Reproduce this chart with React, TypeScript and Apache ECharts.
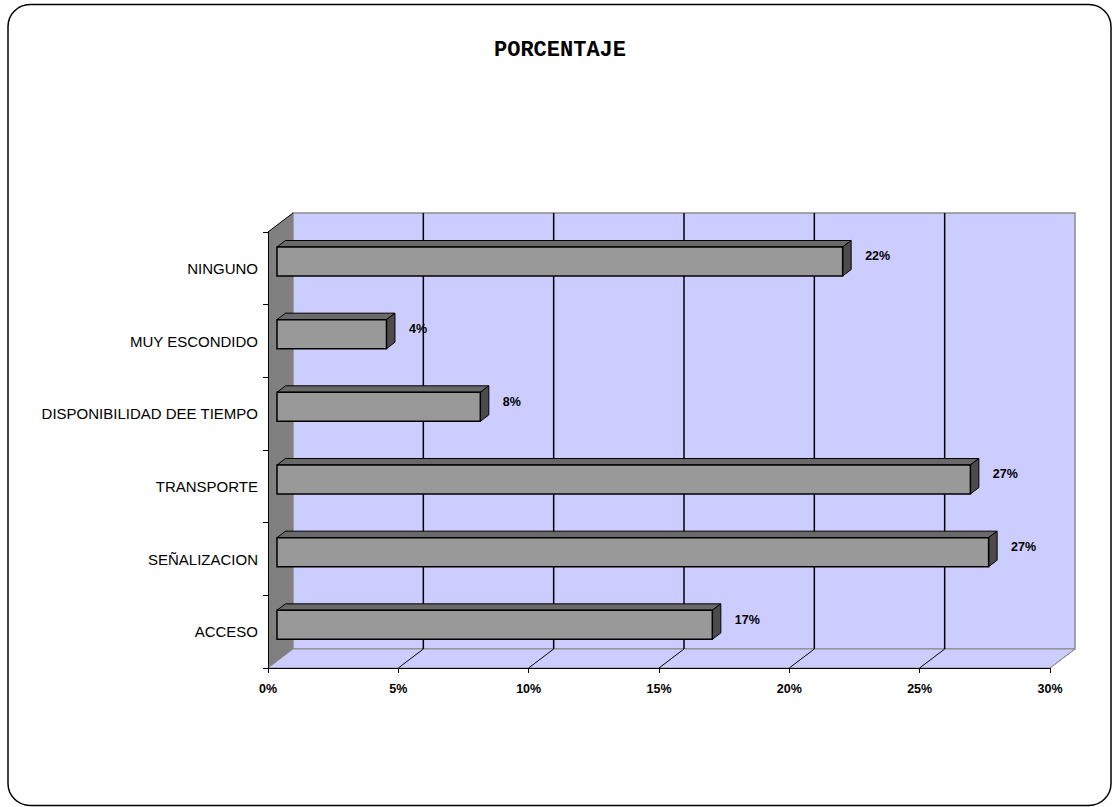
import React, { useEffect, useRef } from "react";
import * as echarts from "echarts";

// Reasons listed (bottom to top on the category axis)
const categories = [
  "ACCESO",
  "SEÑALIZACION",
  "TRANSPORTE",
  "DISPONIBILIDAD DEE TIEMPO",
  "MUY ESCONDIDO",
  "NINGUNO",
];
// Share of answers, in percent
const percentages = [16.7, 27.3, 26.6, 7.8, 4.2, 21.7];
// Value-axis ticks (percent)
const xTicks = [0, 5, 10, 15, 20, 25, 30];

const TITLE = "PORCENTAJE";

// 3D look: depth vector of the plot box, in pixels
const DX = 25;
const DY = -19;
// Bars sit between these fractions of the depth
const F1 = 0.36;
const F2 = 0.7;
const BAR_FRACTION = 0.4;
const LABEL_GAP = 14;

const SANS = 'Arial, "Liberation Sans", sans-serif';

export default function App() {
  const ref = useRef<HTMLDivElement>(null);

  useEffect(() => {
    if (!ref.current) return;
    const chart = echarts.init(ref.current, null, { renderer: "svg" });

    const gridValues = xTicks.filter((t) => t > xTicks[0]);

    const option: any = {
      animation: false,
      backgroundColor: "#ffffff",
      grid: { left: 268, top: 232, width: 782, height: 436, containLabel: false },
      xAxis: {
        type: "value",
        min: xTicks[0],
        max: xTicks[xTicks.length - 1],
        interval: 5,
        z: 10,
        axisLine: { show: true, lineStyle: { color: "#000", width: 1 } },
        axisTick: { show: true, length: 5, lineStyle: { color: "#000" } },
        splitLine: { show: false },
        axisLabel: {
          formatter: "{value}%",
          color: "#000",
          fontSize: 12.5,
          fontWeight: "bold",
          fontFamily: SANS,
          margin: 14,
        },
      },
      yAxis: {
        type: "category",
        data: categories,
        z: 10,
        axisLine: { show: true, lineStyle: { color: "#000", width: 1 } },
        axisTick: { show: true, length: 5, alignWithLabel: false, lineStyle: { color: "#000" } },
        splitLine: { show: false },
        axisLabel: { color: "#000", fontSize: 15, fontFamily: SANS, margin: 10 },
      },
      graphic: [
        {
          type: "rect",
          shape: { x: 8, y: 4.5, width: 1103, height: 801, r: 22 },
          style: { fill: "none", stroke: "#000", lineWidth: 1.5 },
          z: 100,
        },
        {
          type: "text",
          x: 560,
          y: 50,
          style: {
            text: TITLE,
            align: "center",
            verticalAlign: "middle",
            fontSize: 22,
            fontWeight: "bold",
            fontFamily: '"Courier New", "Liberation Mono", monospace',
            fill: "#000",
          },
        },
      ],
      series: [
        {
          // walls and floor of the plot box
          type: "custom",
          z: 1,
          clip: false,
          silent: true,
          data: [[0, 0]],
          renderItem: (params: any) => {
            const cs = params.coordSys;
            const x0 = cs.x, y0 = cs.y, w = cs.width, h = cs.height;
            return {
              type: "group",
              children: [
                {
                  type: "polygon",
                  shape: {
                    points: [
                      [x0 + DX, y0 + DY],
                      [x0 + w + DX, y0 + DY],
                      [x0 + w + DX, y0 + h + DY],
                      [x0 + DX, y0 + h + DY],
                    ],
                  },
                  style: { fill: "#ccccff", stroke: "#8c8c8c", lineWidth: 1.5 },
                },
                {
                  type: "polygon",
                  shape: {
                    points: [
                      [x0, y0 + h],
                      [x0 + w, y0 + h],
                      [x0 + w + DX, y0 + h + DY],
                      [x0 + DX, y0 + h + DY],
                    ],
                  },
                  style: { fill: "#ccccff", stroke: "#8c8c8c", lineWidth: 1 },
                },
                {
                  type: "polygon",
                  shape: {
                    points: [
                      [x0, y0],
                      [x0 + DX, y0 + DY],
                      [x0 + DX, y0 + h + DY],
                      [x0, y0 + h],
                    ],
                  },
                  style: { fill: "#808080", stroke: "none" },
                },
                {
                  type: "line",
                  shape: { x1: x0, y1: y0, x2: x0 + DX, y2: y0 + DY },
                  style: { stroke: "#000", lineWidth: 1 },
                },
              ],
            };
          },
        },
        {
          // gridlines on the back wall and across the floor
          type: "custom",
          z: 1.5,
          clip: false,
          silent: true,
          data: gridValues.map((v) => [v, 0]),
          renderItem: (params: any, api: any) => {
            const v = api.value(0);
            const cs = params.coordSys;
            const x = api.coord([v, 0])[0];
            const top = cs.y;
            const bottom = cs.y + cs.height;
            const last = v === xTicks[xTicks.length - 1];
            const color = last ? "#8c8c8c" : "#000";
            const children: any[] = [
              {
                type: "line",
                shape: { x1: x + DX, y1: bottom + DY, x2: x, y2: bottom },
                style: { stroke: color, lineWidth: 1 },
              },
            ];
            if (!last) {
              children.push({
                type: "line",
                shape: { x1: x + DX, y1: top + DY, x2: x + DX, y2: bottom + DY },
                style: { stroke: "#000", lineWidth: 1.5 },
              });
            }
            return { type: "group", children };
          },
        },
        {
          // 3D bars with their value labels
          type: "custom",
          z: 3,
          clip: false,
          data: percentages.map((v, i) => [v, i]),
          renderItem: (params: any, api: any) => {
            const v = api.value(0);
            const idx = api.value(1);
            const base = api.coord([0, idx]);
            const end = api.coord([v, idx]);
            const band = api.size([0, 1])[1];
            const h = band * BAR_FRACTION;
            const bx = DX * (F2 - F1);
            const by = DY * (F2 - F1);
            const xl = base[0] + DX * F1;
            const xr = end[0] + DX * F1;
            const yc = base[1] + DY * F1;
            const top = yc - h / 2;
            const bot = yc + h / 2;
            return {
              type: "group",
              children: [
                {
                  type: "polygon",
                  shape: { points: [[xl, top], [xr, top], [xr + bx, top + by], [xl + bx, top + by]] },
                  style: { fill: "#696969", stroke: "#000", lineWidth: 1 },
                },
                {
                  type: "polygon",
                  shape: { points: [[xr, top], [xr + bx, top + by], [xr + bx, bot + by], [xr, bot]] },
                  style: { fill: "#4b4b4b", stroke: "#000", lineWidth: 1 },
                },
                {
                  type: "rect",
                  shape: { x: xl, y: top, width: xr - xl, height: h },
                  style: { fill: "#999999", stroke: "#000", lineWidth: 1.5 },
                },
                {
                  type: "text",
                  x: xr + bx + LABEL_GAP,
                  y: yc + by * 0.8,
                  style: {
                    text: Math.round(v) + "%",
                    align: "left",
                    verticalAlign: "middle",
                    fontSize: 12.5,
                    fontWeight: "bold",
                    fontFamily: SANS,
                    fill: "#000",
                  },
                },
              ],
            };
          },
        },
      ],
    };

    chart.setOption(option);
    return () => chart.dispose();
  }, []);

  return (
    <div
      ref={ref}
      style={{ position: "fixed", left: 0, top: 0, width: 1112, height: 807, background: "#fff" }}
    />
  );
}
